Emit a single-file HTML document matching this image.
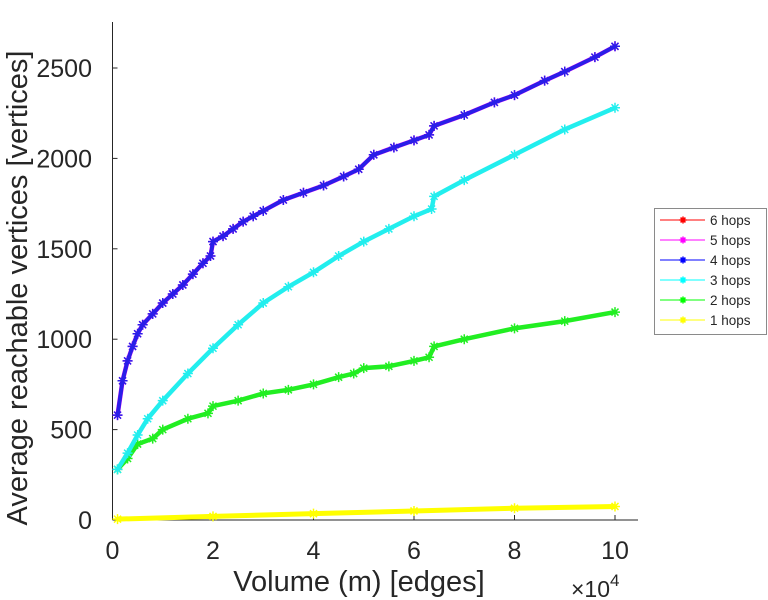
<!DOCTYPE html>
<html><head><meta charset="utf-8"><style>
html,body{margin:0;padding:0;background:#fff;}
svg{display:block;font-family:"Liberation Sans",sans-serif;}
</style></head><body>
<svg id="chart" width="768" height="600" viewBox="0 0 768 600" xmlns="http://www.w3.org/2000/svg">
<g id="axes"></g>
<g id="series"></g>
<text transform="translate(27,288) rotate(-90)" text-anchor="middle" font-size="29" fill="#262626">Average reachable vertices [vertices]</text>
<text x="359" y="591" text-anchor="middle" font-size="29" fill="#262626">Volume (m) [edges]</text>
<text x="571" y="597" font-size="23" fill="#262626">×10<tspan dy="-11" font-size="17">4</tspan></text>
<g id="legend">
<rect x="654.5" y="208.5" width="112" height="126" fill="#fff" stroke="#8a8a8a" stroke-width="1"/>
</g>
</svg>
<script>
const xTicks=[0,2,4,6,8,10];
const yTicks=[0,500,1000,1500,2000,2500];
const hops4X=[0.1,0.2,0.3,0.4,0.5,0.6,0.8,1.0,1.2,1.4,1.6,1.8,1.95,2.0,2.2,2.4,2.6,2.8,3.0,3.4,3.8,4.2,4.6,4.9,5.2,5.6,6.0,6.3,6.4,7.0,7.6,8.0,8.6,9.0,9.6,10];
const hops4Y=[580,770,880,960,1030,1080,1140,1200,1250,1300,1360,1420,1460,1540,1570,1610,1650,1680,1710,1770,1810,1850,1900,1940,2020,2060,2100,2130,2180,2240,2310,2350,2430,2480,2560,2620];
const hops3X=[0.1,0.3,0.5,0.7,1.0,1.5,2.0,2.5,3.0,3.5,4.0,4.5,5.0,5.5,6.0,6.35,6.4,7.0,8.0,9.0,10];
const hops3Y=[280,370,470,560,660,810,950,1080,1200,1290,1370,1460,1540,1610,1680,1720,1790,1880,2020,2160,2280];
const hops2X=[0.1,0.3,0.5,0.8,1.0,1.5,1.9,2.0,2.5,3.0,3.5,4.0,4.5,4.8,5.0,5.5,6.0,6.3,6.4,7.0,8.0,9.0,10];
const hops2Y=[280,340,420,450,500,560,590,630,660,700,720,750,790,810,840,850,880,900,960,1000,1060,1100,1150];
const hops1X=[0.1,2,4,6,8,10];
const hops1Y=[5,20,35,50,65,75];
const legendLabels=["6 hops","5 hops","4 hops","3 hops","2 hops","1 hops"];
const legendColors=["#ff0000","#ff00ff","#0000ff","#00ffff","#00ff00","#ffff00"];

const NS="http://www.w3.org/2000/svg";
const X0=112.5,XS=50.25,Y0=520,YS=0.1808;
function sx(v){return X0+v*XS;}
function sy(v){return Y0-v*YS;}
function mk(tag,attrs,parent){const e=document.createElementNS(NS,tag);for(const k in attrs)e.setAttribute(k,attrs[k]);parent.appendChild(e);return e;}
const axes=document.getElementById('axes');
let e=mk('line',{x1:X0,y1:Y0,x2:638,y2:Y0,stroke:'#262626','stroke-width':1},axes);


e=mk('line',{x1:X0,y1:Y0,x2:X0,y2:22,stroke:'#262626','stroke-width':1},axes);


xTicks.forEach(t=>{
  const l=mk('line',{x1:sx(t),y1:Y0,x2:sx(t),y2:Y0-5,stroke:'#262626'},axes);
  
  
  const tx=mk('text',{x:sx(t),y:559,'text-anchor':'middle','font-size':25,fill:'#262626'},axes);
  tx.textContent=t;
  
  
});
yTicks.forEach(t=>{
  const l=mk('line',{x1:X0,y1:sy(t),x2:X0+5,y2:sy(t),stroke:'#262626'},axes);
  
  
  const tx=mk('text',{x:92,y:sy(t)+9,'text-anchor':'end','font-size':25,fill:'#262626'},axes);
  tx.textContent=t;
  
  
});
const sg=document.getElementById('series');
function star(g,x,y,c,r){
  const d=`M${x-r},${y}L${x+r},${y}M${x},${y-r}L${x},${y+r}M${x-r*0.7},${y-r*0.7}L${x+r*0.7},${y+r*0.7}M${x-r*0.7},${y+r*0.7}L${x+r*0.7},${y-r*0.7}`;
  const p=mk('path',{d:d,stroke:c,'stroke-width':1.5,fill:'none'},g);
  
  
}
function series(xs,ys,c,name,w){
  const g=mk('g',{},sg);
  
  
  const pts=xs.map((x,i)=>sx(x)+','+sy(ys[i])).join(' ');
  const pl=mk('polyline',{points:pts,fill:'none',stroke:c,'stroke-width':w},g);
  
  
  xs.forEach((x,i)=>star(g,sx(x),sy(ys[i]),c,5));
}
series(hops1X,hops1Y,'#ffff00','series-1-hops',5);
series(hops2X,hops2Y,'#22ee22','series-2-hops',4.5);
series(hops3X,hops3Y,'#22eeee','series-3-hops',4.5);
series(hops4X,hops4Y,'#ff00ff','series-5-hops',4.5);
series(hops4X,hops4Y,'#2a1ee8','series-4-hops',4);
const lg=document.getElementById('legend');
legendLabels.forEach((lab,i)=>{
  const y=220+i*20;
  const g=mk('g',{},lg);
  
  
  mk('line',{x1:660,y1:y,x2:705,y2:y,stroke:legendColors[i],'stroke-width':1},g);
  star(g,683,y,legendColors[i],3.5);
  const t=mk('text',{x:710,y:y+5,'font-size':13.5,fill:'#262626'},g);
  t.textContent=lab;
});
</script>
</body></html>
